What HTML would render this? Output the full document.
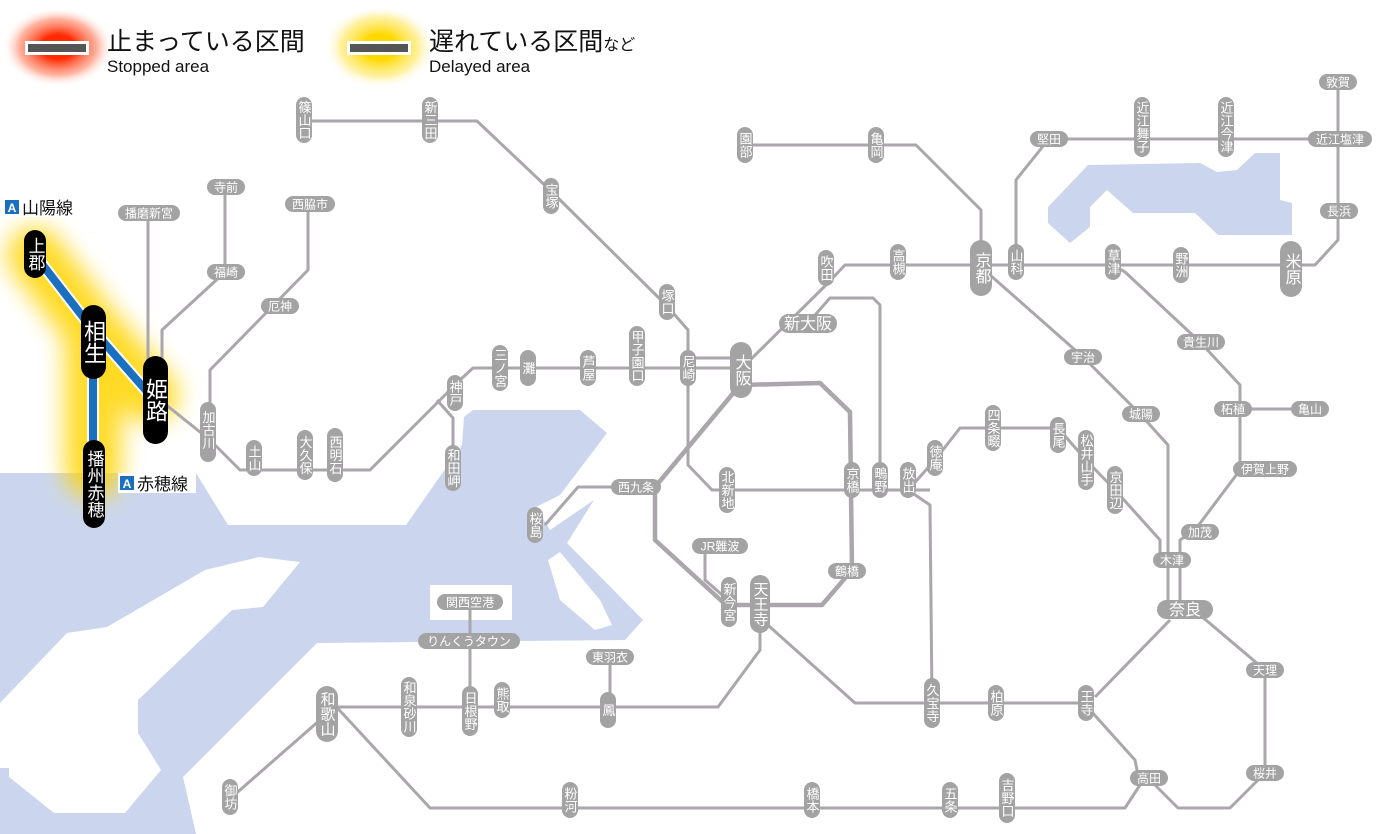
<!DOCTYPE html>
<html><head><meta charset="utf-8"><style>
html,body{margin:0;padding:0;background:#fff;width:1400px;height:834px;overflow:hidden}
svg{display:block}
text{font-family:"Liberation Sans","Noto Sans CJK JP",sans-serif}
.l{fill:none;stroke:#aaa6ab;stroke-width:3;stroke-linejoin:round}
.s rect{fill:#a3a3a3}
.s text{fill:#fff;font-size:12px;text-anchor:middle}
.s text.v{font-size:13px}
.v{writing-mode:vertical-rl;text-anchor:middle}
.b rect{fill:#a3a3a3}
.b text{fill:#fff;font-size:16px;text-anchor:middle}
.k rect{fill:#000}
.k text{fill:#fff;text-anchor:middle}
</style></head><body>
<svg width="1400" height="834" viewBox="0 0 1400 834" xmlns="http://www.w3.org/2000/svg">
<defs>
<radialGradient id="rg"><stop offset="0.3" stop-color="#ff2a00"/><stop offset="0.7" stop-color="#ff8060" stop-opacity="0.6"/><stop offset="1" stop-color="#fff" stop-opacity="0"/></radialGradient>
<radialGradient id="yg"><stop offset="0.3" stop-color="#ffd800"/><stop offset="0.7" stop-color="#ffe860" stop-opacity="0.6"/><stop offset="1" stop-color="#fff" stop-opacity="0"/></radialGradient>
<filter id="bl" x="-50%" y="-50%" width="200%" height="200%"><feGaussianBlur stdDeviation="12"/></filter>
</defs>
<polygon fill="#cbd6ee" points="0,473 196,473 228,525 406,525 462,445 464,417 473,410 580,410 607,433 560,495 536,507 550,530 594,500 567,543 643,620 625,640 317,643 183,777 196,834 0,834"/>
<polygon fill="#fff" points="0,703 67,633 107,627 205,570 259,557 300,562 263,607 232,610 138,700 138,733 161,770 125,813 54,813 9,777 9,768 0,768"/>
<polygon fill="#fff" points="548,560 560,552 600,600 612,625 595,630 560,600"/>
<polygon fill="#fff" points="430,585 512,585 512,620 430,620"/>
<polygon fill="#cbd6ee" points="1048,207 1088,165 1200,163 1217,172 1237,170 1255,153 1280,153 1280,200 1292,203 1292,235 1218,235 1195,213 1133,213 1107,190 1090,207 1090,227 1070,243 1048,223"/>
<ellipse cx="58" cy="47" rx="56" ry="40" fill="url(#rg)"/>
<rect x="25" y="41" width="64" height="14" fill="#fff"/><rect x="28" y="44" width="58" height="8" fill="#555"/>
<text x="107" y="50" font-size="25" fill="#111">止まっている区間</text>
<text x="107" y="72" font-size="17" fill="#111">Stopped area</text>
<ellipse cx="380" cy="47" rx="56" ry="42" fill="url(#yg)"/>
<rect x="347" y="41" width="64" height="14" fill="#fff"/><rect x="350" y="44" width="58" height="8" fill="#555"/>
<text x="429" y="50" font-size="25" fill="#111">遅れている区間<tspan font-size="16">など</tspan></text>
<text x="429" y="72" font-size="17" fill="#111">Delayed area</text>
<g filter="url(#bl)" stroke="#ffd400" stroke-width="56" fill="none" stroke-linecap="round" opacity="0.85">
<polyline points="35,255 93,330 150,395"/><polyline points="93,340 93,470"/>
</g>
<polyline class="l" points="304,121 477,121 552,192 667,306 688,330 688,465 712,490 930,490"/>
<polyline class="l" points="148,213 148,375"/>
<polyline class="l" points="225,187 225,272 162,330 162,365"/>
<polyline class="l" points="308,204 308,270 210,370 210,440"/>
<polyline class="l" points="160,400 210,440 240,470 370,470 440,400 460,380 473,368 740,368"/>
<polyline class="l" points="688,358 740,358"/>
<polyline class="l" points="437,400 453,418 453,475"/>
<polyline class="l" points="740,370 826,285 845,265 1315,265 1338,240 1338,82"/>
<polyline class="l" points="1016,262 1016,180 1040,150 1048,139 1340,139"/>
<polyline class="l" points="745,145 916,145 981,210 981,265"/>
<polyline class="l" style="stroke-width:4.5" points="740,385 820,383 850,412 852,570 822,605 726,605 655,540 655,487 740,385"/>
<polyline class="l" points="636,487 578,487 545,525"/>
<polyline class="l" points="808,323 830,298 873,298 880,305 880,490"/>
<polyline class="l" points="908,490 935,460 960,428 1058,428 1086,460 1115,490 1160,540 1160,562"/>
<polyline class="l" points="990,275 1083,357 1140,414 1168,445 1168,605"/>
<polyline class="l" points="1113,265 1125,272 1200,342 1240,385 1240,409 1310,409"/>
<polyline class="l" points="1240,409 1240,470 1195,530 1180,540 1180,605"/>
<polyline class="l" points="1170,620 1095,697"/>
<polyline class="l" points="1200,615 1265,670 1265,773 1230,808 1178,808 1150,780"/>
<polyline class="l" points="1090,710 1135,760 1140,785 1125,808 430,808 330,700"/>
<polyline class="l" points="760,618 855,703 1086,703"/>
<polyline class="l" points="908,490 930,505 932,700"/>
<polyline class="l" points="760,620 760,650 718,707 330,707"/>
<polyline class="l" points="610,657 610,707"/>
<polyline class="l" points="470,602 470,707"/>
<polyline class="l" points="320,720 232,797"/>
<polyline class="l" points="705,548 705,580 728,600"/>
<g fill="none" stroke-linecap="round">
<polyline points="35,255 93,330 150,395" stroke="#fff" stroke-width="12"/>
<polyline points="93,340 93,470" stroke="#fff" stroke-width="12"/>
<polyline points="35,255 93,330 150,395" stroke="#1a6fbf" stroke-width="8"/>
<polyline points="93,340 93,470" stroke="#1a6fbf" stroke-width="8"/>
</g>
<rect x="3" y="197" width="76" height="20" fill="#fff"/>
<rect x="5" y="200" width="14" height="14" fill="#1a6fbf"/><text x="12" y="212" font-size="12" fill="#fff" text-anchor="middle" font-weight="bold">A</text>
<text x="22" y="214" font-size="17" fill="#111">山陽線</text>
<rect x="118" y="473" width="78" height="20" fill="#fff"/>
<rect x="120" y="476" width="14" height="14" fill="#1a6fbf"/><text x="127" y="488" font-size="12" fill="#fff" text-anchor="middle" font-weight="bold">A</text>
<text x="137" y="490" font-size="17" fill="#111">赤穂線</text>
<g class="k">
<rect x="24" y="230" width="22" height="48" rx="11"/><text class="v" x="35" y="254" font-size="17">上郡</text>
<rect x="81" y="305" width="25" height="74" rx="12.5"/><text class="v" x="93.5" y="342" font-size="22">相生</text>
<rect x="143" y="356" width="25" height="88" rx="12.5"/><text class="v" x="155.5" y="400" font-size="22">姫路</text>
<rect x="83" y="440" width="22" height="88" rx="11"/><text class="v" x="94" y="484" font-size="17">播州赤穂</text>
</g>
<g class="s">
<rect x="296" y="97" width="16" height="46" rx="8"/><text class="v" x="304" y="120">篠山口</text>
<rect x="422" y="97" width="16" height="46" rx="8"/><text class="v" x="430" y="120">新三田</text>
<rect x="543" y="178" width="16" height="36" rx="8"/><text class="v" x="551" y="196">宝塚</text>
<rect x="659" y="284" width="16" height="36" rx="8"/><text class="v" x="667" y="302">塚口</text>
<rect x="629" y="326" width="16" height="60" rx="8"/><text class="v" x="637" y="356">甲子園口</text>
<rect x="680" y="350" width="16" height="36" rx="8"/><text class="v" x="688" y="368">尼崎</text>
<rect x="580" y="350" width="16" height="36" rx="8"/><text class="v" x="588" y="368">芦屋</text>
<rect x="520" y="350" width="16" height="36" rx="8"/><text class="v" x="528" y="368">灘</text>
<rect x="492" y="345" width="16" height="46" rx="8"/><text class="v" x="500" y="368">三ノ宮</text>
<rect x="447" y="375" width="16" height="36" rx="8"/><text class="v" x="455" y="393">神戸</text>
<rect x="445" y="445" width="16" height="46" rx="8"/><text class="v" x="453" y="468">和田岬</text>
<rect x="200" y="402" width="16" height="60" rx="8"/><text class="v" x="208" y="430">加古川</text>
<rect x="246" y="440" width="16" height="36" rx="8"/><text class="v" x="254" y="458">土山</text>
<rect x="297" y="430" width="16" height="50" rx="8"/><text class="v" x="305" y="455">大久保</text>
<rect x="327" y="428" width="16" height="54" rx="8"/><text class="v" x="335" y="455">西明石</text>
<rect x="818" y="250" width="16" height="36" rx="8"/><text class="v" x="826" y="268">吹田</text>
<rect x="890" y="244" width="16" height="36" rx="8"/><text class="v" x="898" y="262">高槻</text>
<rect x="1008" y="244" width="16" height="36" rx="8"/><text class="v" x="1016" y="262">山科</text>
<rect x="737" y="127" width="16" height="36" rx="8"/><text class="v" x="745" y="145">園部</text>
<rect x="868" y="127" width="16" height="36" rx="8"/><text class="v" x="876" y="145">亀岡</text>
<rect x="1134" y="97" width="16" height="60" rx="8"/><text class="v" x="1142" y="127">近江舞子</text>
<rect x="1218" y="97" width="16" height="60" rx="8"/><text class="v" x="1226" y="127">近江今津</text>
<rect x="1105" y="244" width="16" height="36" rx="8"/><text class="v" x="1113" y="262">草津</text>
<rect x="1173" y="247" width="16" height="36" rx="8"/><text class="v" x="1181" y="265">野洲</text>
<rect x="719" y="467" width="16" height="46" rx="8"/><text class="v" x="727" y="490">北新地</text>
<rect x="844" y="462" width="16" height="36" rx="8"/><text class="v" x="852" y="480">京橋</text>
<rect x="872" y="462" width="16" height="36" rx="8"/><text class="v" x="880" y="480">鴫野</text>
<rect x="900" y="462" width="16" height="36" rx="8"/><text class="v" x="908" y="480">放出</text>
<rect x="927" y="440" width="16" height="36" rx="8"/><text class="v" x="935" y="458">徳庵</text>
<rect x="985" y="405" width="16" height="46" rx="8"/><text class="v" x="993" y="428">四条畷</text>
<rect x="1050" y="417" width="16" height="36" rx="8"/><text class="v" x="1058" y="435">長尾</text>
<rect x="1078" y="430" width="16" height="60" rx="8"/><text class="v" x="1086" y="460">松井山手</text>
<rect x="1107" y="466" width="16" height="48" rx="8"/><text class="v" x="1115" y="490">京田辺</text>
<rect x="721" y="577" width="16" height="50" rx="8"/><text class="v" x="729" y="602">新今宮</text>
<rect x="401" y="677" width="16" height="60" rx="8"/><text class="v" x="409" y="707">和泉砂川</text>
<rect x="462" y="686" width="16" height="50" rx="8"/><text class="v" x="470" y="711">日根野</text>
<rect x="494" y="682" width="16" height="36" rx="8"/><text class="v" x="502" y="700">熊取</text>
<rect x="600" y="692" width="16" height="36" rx="8"/><text class="v" x="608" y="710">鳳</text>
<rect x="222" y="779" width="16" height="36" rx="8"/><text class="v" x="230" y="797">御坊</text>
<rect x="562" y="782" width="16" height="36" rx="8"/><text class="v" x="570" y="800">粉河</text>
<rect x="804" y="782" width="16" height="36" rx="8"/><text class="v" x="812" y="800">橋本</text>
<rect x="942" y="782" width="16" height="36" rx="8"/><text class="v" x="950" y="800">五条</text>
<rect x="999" y="773" width="16" height="50" rx="8"/><text class="v" x="1007" y="798">吉野口</text>
<rect x="924" y="678" width="16" height="50" rx="8"/><text class="v" x="932" y="703">久宝寺</text>
<rect x="988" y="685" width="16" height="36" rx="8"/><text class="v" x="996" y="703">柏原</text>
<rect x="1078" y="685" width="16" height="36" rx="8"/><text class="v" x="1086" y="703">王寺</text>
<rect x="527" y="507" width="16" height="36" rx="8"/><text class="v" x="535" y="525">桜島</text>
</g>
<g class="s">
<rect x="118" y="205" width="62" height="16" rx="8"/><text x="149" y="217.5">播磨新宮</text>
<rect x="207" y="179" width="38" height="16" rx="8"/><text x="226" y="191.5">寺前</text>
<rect x="285" y="196" width="50" height="16" rx="8"/><text x="310" y="208.5">西脇市</text>
<rect x="207" y="264" width="38" height="16" rx="8"/><text x="226" y="276.5">福崎</text>
<rect x="261" y="298" width="38" height="16" rx="8"/><text x="280" y="310.5">厄神</text>
<rect x="611" y="479" width="50" height="16" rx="8"/><text x="636" y="491.5">西九条</text>
<rect x="692" y="538" width="56" height="16" rx="8"/><text x="720" y="550.5">JR難波</text>
<rect x="828" y="563" width="38" height="16" rx="8"/><text x="847" y="575.5">鶴橋</text>
<rect x="437" y="594" width="66" height="16" rx="8"/><text x="470" y="606.5">関西空港</text>
<rect x="418" y="633" width="102" height="16" rx="8"/><text x="469" y="645.5">りんくうタウン</text>
<rect x="586" y="649" width="48" height="16" rx="8"/><text x="610" y="661.5">東羽衣</text>
<rect x="1030" y="131" width="38" height="16" rx="8"/><text x="1049" y="143.5">堅田</text>
<rect x="1319" y="74" width="38" height="16" rx="8"/><text x="1338" y="86.5">敦賀</text>
<rect x="1308" y="131" width="64" height="16" rx="8"/><text x="1340" y="143.5">近江塩津</text>
<rect x="1320" y="203" width="38" height="16" rx="8"/><text x="1339" y="215.5">長浜</text>
<rect x="1064" y="349" width="38" height="16" rx="8"/><text x="1083" y="361.5">宇治</text>
<rect x="1122" y="406" width="38" height="16" rx="8"/><text x="1141" y="418.5">城陽</text>
<rect x="1177" y="334" width="48" height="16" rx="8"/><text x="1201" y="346.5">貴生川</text>
<rect x="1214" y="401" width="38" height="16" rx="8"/><text x="1233" y="413.5">柘植</text>
<rect x="1291" y="401" width="38" height="16" rx="8"/><text x="1310" y="413.5">亀山</text>
<rect x="1233" y="461" width="64" height="16" rx="8"/><text x="1265" y="473.5">伊賀上野</text>
<rect x="1181" y="524" width="38" height="16" rx="8"/><text x="1200" y="536.5">加茂</text>
<rect x="1153" y="552" width="38" height="16" rx="8"/><text x="1172" y="564.5">木津</text>
<rect x="1246" y="662" width="38" height="16" rx="8"/><text x="1265" y="674.5">天理</text>
<rect x="1246" y="765" width="38" height="16" rx="8"/><text x="1265" y="777.5">桜井</text>
<rect x="1130" y="770" width="38" height="16" rx="8"/><text x="1149" y="782.5">高田</text>
</g>
<g class="b">
<rect x="730" y="342" width="22" height="56" rx="11"/><text class="v" x="741" y="370">大阪</text>
<rect x="970" y="240" width="22" height="56" rx="11"/><text class="v" x="981" y="268">京都</text>
<rect x="1280" y="241" width="22" height="56" rx="11"/><text class="v" x="1291" y="269">米原</text>
<rect x="779" y="314" width="58" height="19" rx="9.5"/><text x="808" y="329">新大阪</text>
<rect x="1157" y="600" width="56" height="19" rx="9.5"/><text x="1185" y="615">奈良</text>
<rect x="750" y="575" width="20" height="58" rx="10"/><text class="v" x="760" y="604" style="font-size:15px">天王寺</text>
<rect x="316" y="686" width="22" height="56" rx="11"/><text class="v" x="327" y="714" style="font-size:15px">和歌山</text>
</g>
</svg>
</body></html>
